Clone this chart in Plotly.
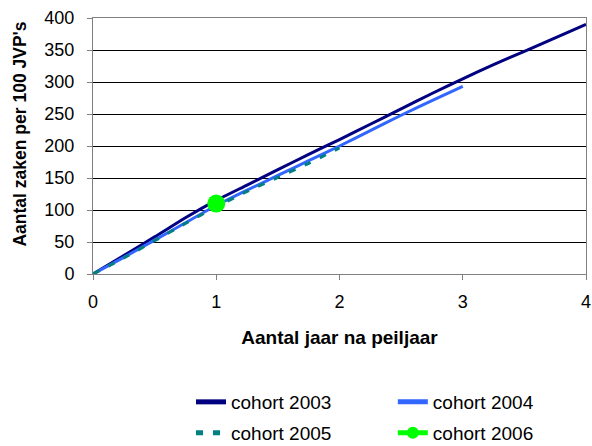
import plotly.graph_objects as go

# Data
x_2003 = [0, 0.25, 0.5, 0.75, 1, 1.25, 1.5, 1.75, 2, 2.25, 2.5, 2.75, 3, 3.25, 3.5, 3.75, 4]
y_2003 = [0, 29, 58, 88, 115, 139, 163, 187, 210, 234, 258, 282, 305, 327, 348, 369, 390]

x_2004 = [0, 0.25, 0.5, 0.75, 1, 1.25, 1.5, 1.75, 2, 2.25, 2.5, 2.75, 3]
y_2004 = [0, 26, 53, 80, 107, 131, 154, 177, 200, 224, 248, 271, 293]

x_2005 = [0, 0.25, 0.5, 0.75, 1, 1.25, 1.5, 1.75, 2]
y_2005 = [0, 25, 52, 79, 105, 129, 151, 173, 197]

x_2006 = [1]
y_2006 = [110]

series_names = ["cohort 2003", "cohort 2004", "cohort 2005", "cohort 2006"]
x_ticks = [0, 1, 2, 3, 4]
y_ticks = [0, 50, 100, 150, 200, 250, 300, 350, 400]
x_title = "Aantal jaar na peiljaar"
y_title = "Aantal zaken per 100 JVP's"

FONT = "Liberation Sans, Arial, sans-serif"

fig = go.Figure()
fig.add_trace(go.Scatter(x=x_2003, y=y_2003, mode="lines", name=series_names[0],
                         line=dict(color="#000080", width=3, shape="spline", smoothing=0.6),
                         legend="legend"))
fig.add_trace(go.Scatter(x=x_2004, y=y_2004, mode="lines", name=series_names[1],
                         line=dict(color="#3366FF", width=3, shape="spline", smoothing=0.6),
                         legend="legend2"))
fig.add_trace(go.Scatter(x=x_2005, y=y_2005, mode="lines", name=series_names[2],
                         line=dict(color="#008080", width=3, dash="7px,10px", shape="spline", smoothing=0.6),
                         legend="legend3"))
fig.add_trace(go.Scatter(x=x_2006, y=y_2006, mode="lines+markers", name=series_names[3],
                         line=dict(color="#00FF00", width=3),
                         marker=dict(color="#00FF00", size=18), legend="legend4"))

leg_common = dict(orientation="h", xanchor="left", yanchor="middle",
                  font=dict(size=19), itemsizing="constant", bgcolor="rgba(0,0,0,0)")

fig.update_layout(
    width=592, height=446,
    margin=dict(l=93, r=6, t=18, b=172, autoexpand=False),
    paper_bgcolor="white", plot_bgcolor="white",
    font=dict(family=FONT, size=18, color="black"),
    xaxis=dict(
        range=[0, 4], tickvals=x_ticks, ticks="outside", ticklen=5, tickcolor="#808080",
        showline=True, linecolor="#808080", linewidth=1, mirror=True,
        showgrid=False, zeroline=False, automargin=False,
        tickfont=dict(size=18), ticklabelstandoff=6,
        title=dict(text="<b>" + x_title + "</b>", font=dict(size=19), standoff=20),
    ),
    yaxis=dict(
        range=[0, 400], tickvals=y_ticks, ticks="outside", ticklen=5, tickcolor="#808080",
        showline=True, linecolor="#808080", linewidth=1, mirror=True,
        showgrid=True, gridcolor="black", gridwidth=1, zeroline=False, automargin=False,
        tickfont=dict(size=18), ticklabelstandoff=9,
    ),
    annotations=[dict(text="<b>" + y_title + "</b>", textangle=-90, showarrow=False,
                      xref="paper", yref="paper", x=-0.148, y=0.545,
                      xanchor="center", yanchor="middle", font=dict(size=17.5))],
    legend=dict(x=0.1988, y=-0.5, **leg_common),
    legend2=dict(x=0.6082, y=-0.5, **leg_common),
    legend3=dict(x=0.1988, y=-0.621, **leg_common),
    legend4=dict(x=0.6082, y=-0.621, **leg_common),
    showlegend=True,
)

fig.write_html("out.html", config={"displayModeBar": False},
               post_script="document.body.style.margin='0';document.body.style.overflow='hidden';")
